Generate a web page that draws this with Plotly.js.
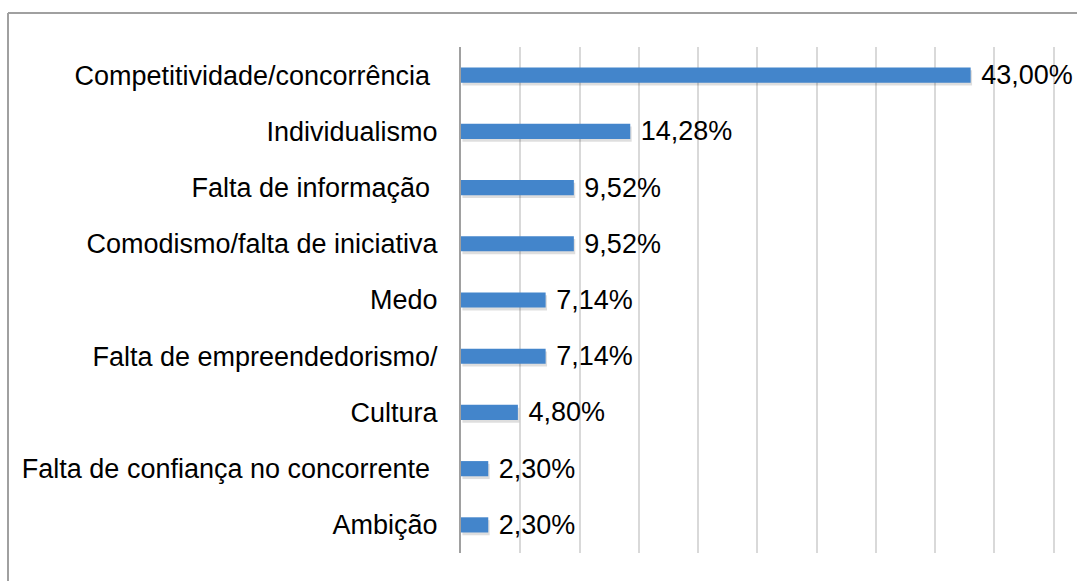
<!DOCTYPE html>
<html>
<head>
<meta charset="utf-8">
<script src="https://cdn.plot.ly/plotly-3.0.1.min.js"></script>
<style>
  body { margin: 0; padding: 0; background: #fff; }
  #grafico { width: 1077px; height: 581px; }
</style>
</head>
<body>
<div id="grafico"></div>
<script>
const categorias = [
    'Competitividade/concorrência\u00a0',
    'Individualismo',
    'Falta de informação\u00a0',
    'Comodismo/falta de iniciativa',
    'Medo',
    'Falta de empreendedorismo/',
    'Cultura',
    'Falta de confiança no concorrente\u00a0',
    'Ambição'
];
const percentuais = [43.00, 14.28, 9.52, 9.52, 7.14, 7.14, 4.80, 2.30, 2.30];

const largura = 1077, altura = 581;
const margem = {l: 461, r: 21, t: 47, b: 28};
const plotW = largura - margem.l - margem.r;
const plotH = altura - margem.t - margem.b;
const larguraBarra = 0.27;

// rótulos no formato brasileiro
var rotulos = percentuais.map(v => '\u00a0' + v.toFixed(2).replace('.', ',') + '%');

var fonte = {family: 'Liberation Sans, Arial, sans-serif', size: 27, color: '#000'};

var data = [
    { // sombra leve abaixo das barras
        type: 'bar',
        orientation: 'h',
        x: percentuais,
        y: categorias,
        base: 0.12,
        width: larguraBarra,
        offset: -larguraBarra / 2 + 0.05,
        marker: {color: 'rgba(0,0,0,0.13)', line: {width: 0}},
        hoverinfo: 'none'
    },
    {
        type: 'bar',
        orientation: 'h',
        x: percentuais,
        y: categorias,
        text: rotulos,
        textposition: 'outside',
        constraintext: 'none',
        cliponaxis: false,
        textfont: fonte,
        width: larguraBarra,
        marker: {color: '#4385cb', line: {width: 0}},
        hoverinfo: 'none'
    }
];

// moldura (borda cinza à esquerda e no topo)
function px2x(px){ return (px - margem.l) / plotW; }
function px2y(py){ return 1 - (py - margem.t) / plotH; }

var layout = {
    width: largura,
    height: altura,
    margin: margem,
    barmode: 'overlay',
    paper_bgcolor: '#fff',
    plot_bgcolor: '#fff',
    showlegend: false,
    font: fonte,
    xaxis: {
        range: [0, 50.2],
        dtick: 5,
        showticklabels: false,
        showgrid: true,
        gridcolor: '#d9d9d9',
        gridwidth: 2,
        zeroline: false,
        showline: false,
        fixedrange: true
    },
    yaxis: {
        type: 'category',
        autorange: 'reversed',
        showline: true,
        linecolor: '#a0a0a0',
        linewidth: 2,
        showgrid: false,
        ticks: '',
        ticklabelstandoff: 16,
        tickfont: fonte,
        fixedrange: true
    },
    shapes: [
        {type: 'line', xref: 'paper', yref: 'paper',
         x0: px2x(8), x1: px2x(8), y0: px2y(13), y1: px2y(581),
         line: {color: '#a0a0a0', width: 2}},
        {type: 'line', xref: 'paper', yref: 'paper',
         x0: px2x(8), x1: px2x(1077), y0: px2y(13), y1: px2y(13),
         line: {color: '#a0a0a0', width: 2}}
    ]
};

Plotly.newPlot('grafico', data, layout, {staticPlot: true});
</script>
</body>
</html>
